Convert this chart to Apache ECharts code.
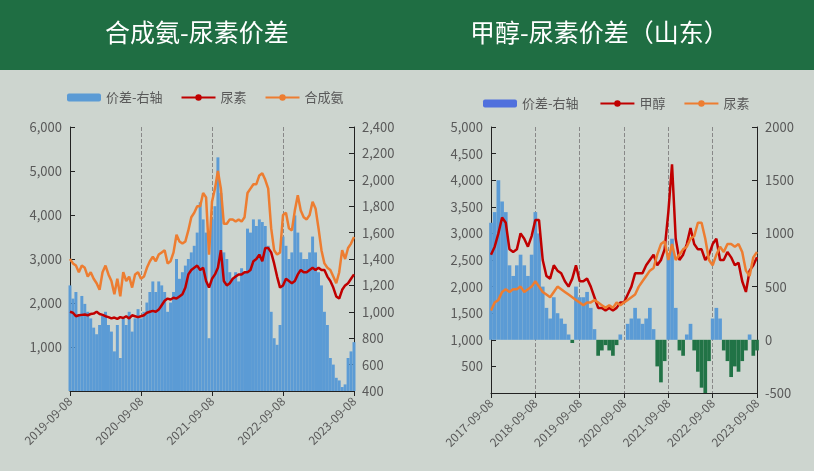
<!DOCTYPE html><html><head><meta charset="utf-8">
<script src="https://cdn.jsdelivr.net/npm/echarts@6/dist/echarts.min.js"></script>
<style>body{margin:0;background:#cdd5cf}#c{width:814px;height:471px}</style></head><body><div id="c"></div>
<script>
// Left panel: 合成氨-尿素 (half-monthly, 2019-09-08 .. 2023-09-08)
const ureaL=[1800,1780,1700,1720,1730,1740,1720,1750,1760,1800,1750,1730,1700,1680,1650,1670,1640,1680,1660,1700,1650,1720,1700,1680,
1700,1720,1780,1800,1820,1800,1850,1950,2050,2100,2080,2120,2100,2150,2200,2350,2650,2750,2800,2850,2750,2800,2500,2350,
2550,2650,2800,3200,2500,2400,2450,2550,2600,2650,2650,2700,2700,2750,2950,3000,3100,2950,3250,3250,3150,2900,2600,2350,
2400,2550,2500,2450,2500,2650,2750,2700,2700,2750,2800,2750,2800,2750,2750,2600,2500,2350,2150,2100,2300,2400,2450,2550,2650];
const ammonia=[3000,2900,2850,2700,2850,2800,2600,2700,2550,2450,2300,2700,2850,2650,2500,2200,2550,2150,2700,2500,2600,2350,2650,2700,
2550,2600,2800,2950,3050,2950,3100,3150,3200,2900,2950,3150,3550,3400,3350,3400,3650,3950,4050,4200,4200,4500,4400,3100,
4300,4600,5000,4600,3800,3800,3900,3900,3850,3900,3850,3950,4500,4600,4700,4700,4900,4950,4800,4600,3700,3200,3100,3150,
4000,4050,3700,3650,4100,4450,4100,3950,3900,4000,4300,4150,3700,3200,2900,2800,2750,2600,2450,2700,3200,3000,3250,3350,3500];
const spreadL=[1200,1100,1150,980,1120,1060,1000,950,880,830,900,970,1000,900,850,700,900,650,950,900,1000,850,950,1020,
950,1000,1070,1150,1230,1150,1230,1200,1150,1000,1070,1150,1400,1250,1300,1350,1400,1450,1500,1600,1830,1700,1600,800,
1700,1800,2170,1900,1450,1400,1300,1250,1300,1230,1330,1300,1630,1600,1700,1650,1700,1680,1650,1500,1000,800,750,900,
1570,1500,1400,1450,1730,1600,1450,1400,1400,1450,1570,1450,1300,1200,1000,900,650,600,500,480,430,450,650,700,770];
// Right panel: 甲醇-尿素 (monthly, 2017-09-08 .. 2023-09-08)
const methanol=[2600,2750,3000,3300,3200,2700,2650,2700,3000,2900,2750,2950,3250,3250,2500,2200,2150,2400,2300,2250,2100,2000,2150,2400,2100,2100,2150,2000,
1800,1600,1600,1550,1600,1550,1600,1700,1700,1850,2000,2250,2250,2250,2400,2500,2600,2400,2500,2700,3400,4300,2900,2500,
2600,2800,3100,2800,2700,2700,2500,2600,2800,2900,2500,2500,2650,2550,2400,2450,2100,1900,2300,2400,2550];
const ureaR=[1550,1700,1750,1900,1950,1900,1950,1950,2000,1900,1950,2000,2100,2000,1900,1850,1800,1900,2000,1950,1900,1850,1800,1750,1700,1650,1700,1700,
1750,1700,1650,1600,1650,1600,1700,1650,1700,1750,1800,1850,2000,2100,2200,2300,2350,2600,2800,2850,2500,2800,2500,2600,
2700,2750,2900,2950,3200,3200,2900,2500,2400,2600,2750,2650,2800,2800,2750,2800,2650,2300,2200,2550,2650];
const spreadR=[1100,1200,1500,1300,1200,700,600,700,800,700,600,800,1200,1000,500,300,200,400,250,200,150,50,-30,500,400,400,450,300,
100,-150,-100,-50,-100,-150,-50,50,0,150,200,300,200,150,200,300,100,-250,-400,-200,800,950,300,-100,
-150,50,150,-100,-300,-450,-500,-200,200,300,200,-100,-200,-350,-250,-300,-200,-100,50,-150,-100];

function dates(y0,n,step){const a=[];for(let i=0;i<n;i++){const m=8+Math.floor(i*step);const y=y0+Math.floor(m/12);const mm=(m%12)+1;
a.push(y+'-'+String(mm).padStart(2,'0')+'-08');}return a;}
const datesL=dates(2019,ureaL.length,0.5), datesR=dates(2017,methanol.length,1);
const tc='#595959', blue='#5b9bd5', green='#217346', red='#c00000', orange='#ed7d31';
function xa(i,d,iv){return {type:'category',gridIndex:i,data:d,boundaryGap:false,
 axisLine:{lineStyle:{color:'#222'}},axisTick:{interval:iv,lineStyle:{color:'#222'}},
 axisLabel:{interval:iv,rotate:45,color:tc,fontSize:12,margin:8},
 splitLine:{show:true,interval:iv,lineStyle:{type:'dashed',color:'#888'}}};}
function ya(i,min,max,iv,pos,fmt){return {type:'value',gridIndex:i,min:min,max:max,interval:iv,position:pos,
 axisLine:{show:true,lineStyle:{color:'#222'}},axisTick:{show:true,inside:true,lineStyle:{color:'#222'}},splitLine:{show:false},
 axisLabel:{color:tc,fontSize:13,formatter:fmt}};}
const f0=v=>v===0?'':v.toLocaleString('en-US');
const fr=v=>v.toLocaleString('en-US');
const fR=v=>String(v);
const ch=echarts.init(document.getElementById('c'));
ch.setOption({backgroundColor:'#cdd5cf',animation:false,
 graphic:[{type:'rect',shape:{x:0,y:0,width:814,height:70},style:{fill:'#1f6e43'}},
  {type:'text',left:105,top:20,style:{text:'合成氨-尿素价差',fill:'#fff',fontSize:25,fontFamily:'Noto Sans CJK SC'}},
  {type:'text',left:470,top:20,style:{text:'甲醇-尿素价差（山东）',fill:'#fff',fontSize:25,fontFamily:'Noto Sans CJK SC'}}],
 textStyle:{fontFamily:'Noto Sans CJK SC'},
 legend:[{left:62,top:86,itemWidth:34,itemHeight:8,itemGap:18,textStyle:{color:tc,fontSize:13},data:['价差-右轴','尿素','合成氨']},
  {left:478,top:92,itemWidth:34,itemHeight:8,itemGap:18,textStyle:{color:tc,fontSize:13},data:['价差-右轴 ','甲醇','尿素 ']}],
 grid:[{left:70,top:127,width:284,height:264},{left:491,top:127,width:266,height:266}],
 xAxis:[xa(0,datesL,23),xa(1,datesR,11)],
 yAxis:[ya(0,0,6000,1000,'left',f0),ya(0,400,2400,200,'right',fr),ya(1,0,5000,500,'left',f0),ya(1,-500,2000,500,'right',fR)],
 series:[
  {name:'价差-右轴',type:'bar',xAxisIndex:0,yAxisIndex:1,data:spreadL,barCategoryGap:'0%',itemStyle:{color:blue}},
  {name:'尿素',type:'line',xAxisIndex:0,yAxisIndex:0,data:ureaL,symbol:'none',lineStyle:{color:red,width:2.5},itemStyle:{color:red}},
  {name:'合成氨',type:'line',xAxisIndex:0,yAxisIndex:0,data:ammonia,symbol:'none',lineStyle:{color:orange,width:2.5},itemStyle:{color:orange}},
  {name:'价差-右轴 ',type:'bar',xAxisIndex:1,yAxisIndex:3,data:spreadR,barCategoryGap:'0%',itemStyle:{color:p=>p.value>=0?blue:green}},
  {name:'甲醇',type:'line',xAxisIndex:1,yAxisIndex:2,data:methanol,symbol:'none',lineStyle:{color:red,width:2.5},itemStyle:{color:red}},
  {name:'尿素 ',type:'line',xAxisIndex:1,yAxisIndex:2,data:ureaR,symbol:'none',lineStyle:{color:orange,width:2.5},itemStyle:{color:orange}}
 ]});
</script></body></html>
